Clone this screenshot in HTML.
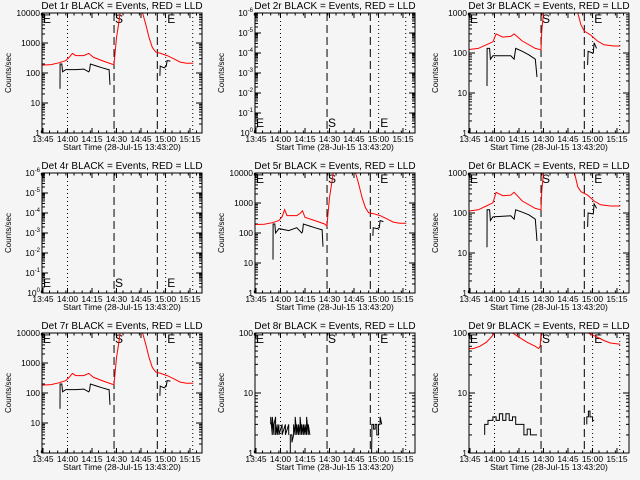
<!DOCTYPE html>
<html><head><meta charset="utf-8"><style>
html,body{margin:0;padding:0;background:#f5f5f5;}
svg{display:block;font-family:"Liberation Sans",sans-serif;}
</style></head><body>
<svg id="c" width="640" height="480" xmlns="http://www.w3.org/2000/svg"></svg>
<script>
// time in minutes since 13:45; value in counts/sec
const tickLabels = ["13:45","14:00","14:15","14:30","14:45","15:00","15:15"];
const tickMinutes = [0,15,30,45,60,75,90];
const dashedLines = [43.5,70];
const dottedLines = [15,75.1,91.7];
const panelTitles = ["Det 1r","Det 2r","Det 3r","Det 4r","Det 5r","Det 6r","Det 7r","Det 8r","Det 9r"];
const panelDecades = [4,6,3,6,4,3,4,2,2];
const red1T = [-2,5,10,14,16,18,20,25,28,31,37,42,43.5,44,45,46.5,48,60,61,63,65,67,69,72,76,80,84,88,92];
const red1V = [180,190,220,260,330,450,380,380,450,330,250,200,190,400,1500,5000,20000,20000,10000,4000,1500,700,500,450,380,300,230,210,210];
const blk1T = [10.4,10.5,11,11.5,12,14,20,25,28,28.5,29,33,36,40,40.5,41];
const blk1V = [30,200,200,200,110,130,130,135,110,120,200,170,150,130,130,40];
const blk1bT = [71.6,71.8,74,74.5,75,75.5,76,78];
const blk1bV = [80,170,150,150,170,170,260,250];
const red5T = [-2,5,10,14,16,17.5,19,25,27,28.5,30,37,42,43.5,44,45,46.5,48,60,61,63,65,67,69,72,76,80,84,88,92];
const red5V = [190,195,220,260,350,600,380,380,450,550,330,250,200,170,400,1500,5000,20000,20000,10000,4000,1500,700,470,440,380,300,230,210,210];
const blk5T = [10.4,10.5,11,11.5,12,14,20,25,28,28.5,29,33,36,40,40.5,41];
const blk5V = [13,200,200,200,100,140,120,150,100,110,200,170,150,130,130,35];
const blk5bT = [71.6,71.8,74,74.5,75,75.5,76,78];
const blk5bV = [80,150,140,140,150,150,260,240];
const red3T = [-2,5,10,14,16,20,25,27,32,40,43.5,44,45,46,65,66,68,70,74,78,82,88,92];
const red3V = [120,130,160,190,300,250,260,300,200,130,120,400,1000,3000,3000,1000,500,350,280,200,160,150,150];
const blk3T = [10.4,10.5,11,12,12.5,14,25,27,28,32,36,40,41];
const blk3V = [15,130,130,130,70,85,85,70,130,110,90,70,25];
const blk3bT = [72,72.3,75,75.5,76,77.5];
const blk3bV = [50,110,100,100,180,130];
const red6T = [-2,5,10,14,16,20,25,27,32,40,43.5,44,45,46,63,64,66,68,72,76,80,86,92];
const red6V = [110,120,150,180,330,270,280,330,200,130,120,400,1000,3000,3000,1000,450,340,280,200,160,150,150];
const blk6T = [10.4,10.5,11,12,12.5,14,25,27,28,32,36,40,41];
const blk6V = [14,120,120,120,65,80,85,70,120,105,90,70,20];
const blk6bT = [72,72.3,75,75.5,76,77.5];
const blk6bV = [45,100,95,95,170,130];
const red9T = [-2,2,6,10,13,15,16,26,30,35,40,42,43,43.5,44];
const red9V = [55,55,60,70,85,100,150,100,85,70,60,55,60,100,150];
const red9bT = [72.5,74,78,82,86,92];
const red9bV = [100,95,85,75,68,65];
const blk9T = [9,9,11,11,14,14,16,16,18,18,20,20,22,22,24,24,26,26,28,28,30,30,33,33,35,35,37,37,39,39,41];
const blk9V = [2,3,3,3.5,3.5,4,4,3.5,3.5,4.5,4.5,3.5,3.5,4.5,4.5,3.5,3.5,4,4,3,3,3,3,2,2,2.5,2.5,2,2,2,2];
const blk9bT = [71.5,71.5,72.5,72.5,73.5,73.5,75,75,76];
const blk9bV = [3,4,4,5,5,4,4,3.5,3.5];
const blk8T = [9,9,10,10,11,11,12,12,13,13,14,14,16,16,18,18,20,20];
const blk8V = [3,4,2,4,2,3,4,2,3,2,3,2,3,2,3,2,3,2];
const blk8cT = [21,21,22,22,23,23,24,24,25,25,26,26,27,27,28,28,29,29,30,30,31,31,32,32,33];
const blk8cV = [1,2,2,1.5,2,3,2,4,2,3,2,3,2,4,2,3,2,3,2,3,2,4,2,3,2];
const blk8bT = [70.8,71,71,72,72,73,73,74,74,75,75,76,76,77];
const blk8bV = [1,2,3,3,2.5,2.5,3,3,2,2,3,3,4,3];

const panelSeries = [
 [[red1T,red1V,"red"],[blk1T,blk1V,"black"],[blk1bT,blk1bV,"black"]],
 [],
 [[red3T,red3V,"red"],[blk3T,blk3V,"black"],[blk3bT,blk3bV,"black"]],
 [],
 [[red5T,red5V,"red"],[blk5T,blk5V,"black"],[blk5bT,blk5bV,"black"]],
 [[red6T,red6V,"red"],[blk6T,blk6V,"black"],[blk6bT,blk6bV,"black"]],
 [[red1T,red1V,"red"],[blk1T,blk1V,"black"],[blk1bT,blk1bV,"black"]],
 [[blk8T,blk8V,"black"],[blk8cT,blk8cV,"black"],[blk8bT,blk8bV,"black"]],
 [[red9T,red9V,"red"],[red9bT,red9bV,"red"],[blk9T,blk9V,"black"],[blk9bT,blk9bV,"black"]]
];

const NS="http://www.w3.org/2000/svg";
const svg=document.getElementById('c');
function mk(tag,attrs,parent){const e=document.createElementNS(NS,tag);for(const k in attrs)e.setAttribute(k,attrs[k]);(parent||svg).appendChild(e);return e;}
const W=160,H=120;
for(let p=0;p<9;p++){
  const col=p%3,row=Math.floor(p/3);
  const x0=Math.round(42+213.3*col),y0=13+160*row;
  const dec=panelDecades[p];
  const neg=(dec===6);
  const sx=t=>x0+1+t*1.633;
  const sy=v=>y0+H-Math.log10(v)*H/dec;
  const g=mk('g',{});
  
  
  const cp=mk('clipPath',{id:'cp'+p},g);
  mk('rect',{x:x0,y:y0,width:W,height:H},cp);
  const tt=mk('text',{x:x0+W/2,y:y0-4,'text-anchor':'middle','font-size':'10'},g);
  tt.textContent=panelTitles[p]+" BLACK = Events, RED = LLD";
  
  
  const yl=mk('text',{x:0,y:0,'text-anchor':'middle','font-size':'8',transform:`translate(${x0-31},${y0+H/2}) rotate(-90)`},g);
  yl.textContent="Counts/sec";
  
  
  const xl=mk('text',{x:x0+W/2,y:y0+H+17,'text-anchor':'middle','font-size':'8.5'},g);
  xl.textContent="Start Time (28-Jul-15 13:43:20)";
  
  
  for(let i=0;i<tickMinutes.length;i++){
    const x=sx(tickMinutes[i]);
    mk('line',{x1:x,x2:x,y1:y0+H,y2:y0+H-5,stroke:'#000'},g);
    mk('line',{x1:x,x2:x,y1:y0,y2:y0+5,stroke:'#000'},g);
    const tl=mk('text',{x:x,y:y0+H+9,'text-anchor':'middle','font-size':'8.5'},g);
    tl.textContent=tickLabels[i];
    
    
  }
  for(let m=-1;m<97;m+=5){
    if(m%15===0)continue;const x=sx(m);
    mk('line',{x1:x,x2:x,y1:y0+H,y2:y0+H-2.5,stroke:'#000'},g);
    mk('line',{x1:x,x2:x,y1:y0,y2:y0+2.5,stroke:'#000'},g);
  }
  for(let d=0;d<=dec;d++){
    const y=y0+H-d*H/dec;
    mk('line',{x1:x0,x2:x0+6,y1:y,y2:y,stroke:'#000'},g);
    mk('line',{x1:x0+W,x2:x0+W-6,y1:y,y2:y,stroke:'#000'},g);
    const tl=mk('text',{x:x0-2,y:y+3,'text-anchor':'end','font-size':'8.5'},g);
    
    
    if(neg){
      const e=(d===0)?"0":"-"+d;
      tl.textContent="10";const ts=mk('tspan',{dy:-4,'font-size':'6'},tl);ts.textContent=e;
    } else tl.textContent=String(Math.pow(10,d));
    if(d<dec){for(let k=2;k<10;k++){const yy=y-Math.log10(k)*H/dec;
      mk('line',{x1:x0,x2:x0+3,y1:yy,y2:yy,stroke:'#000'},g);
      mk('line',{x1:x0+W,x2:x0+W-3,y1:yy,y2:yy,stroke:'#000'},g);}}
  }
  for(const t of dashedLines){const x=sx(t);mk('line',{x1:x,x2:x,y1:y0,y2:y0+H,stroke:'#000','stroke-dasharray':'8,4'},g);}
  for(const t of dottedLines){const x=sx(t);mk('line',{x1:x,x2:x,y1:y0,y2:y0+H,stroke:'#000','stroke-dasharray':'1,3'},g);}
  const ly=neg?y0+H-6:y0+10;
  [[x0+1,"E"],[sx(dashedLines[0])+1,"S"],[sx(dashedLines[1])+10,"E"]].forEach(([x,s])=>{
    const l=mk('text',{x:x,y:ly,'font-size':'12'},g);l.textContent=s;
    
    
  });
  const sg=mk('g',{'clip-path':`url(#cp${p})`},g);
  for(const [ts,vs,col2] of panelSeries[p]){
    const pts=ts.map((t,i)=>sx(t).toFixed(1)+","+sy(vs[i]).toFixed(1)).join(" ");
    const pl=mk('polyline',{points:pts,fill:'none',stroke:col2==='red'?'#ff0000':'#000','stroke-width':'1'},sg);
    
    
  }
  mk('rect',{x:x0,y:y0,width:W,height:H,fill:'none',stroke:'#000'},g);
}
</script>
</body></html>
